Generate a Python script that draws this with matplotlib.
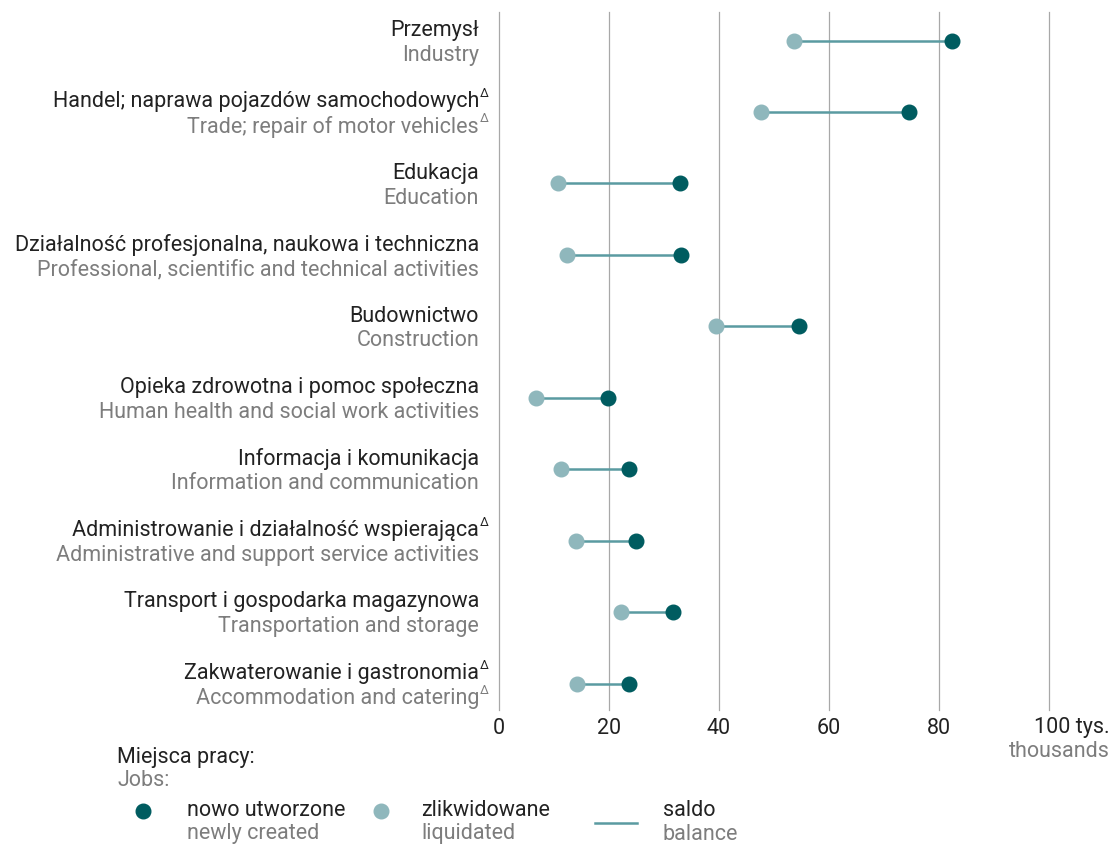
import numpy as np
import matplotlib.pyplot as plt
from matplotlib.lines import Line2D

# Dane (tys. miejsc pracy)
sekcje_pl = ["Przemysł", "Handel; naprawa pojazdów samochodowych", "Edukacja",
             "Działalność profesjonalna, naukowa i techniczna", "Budownictwo",
             "Opieka zdrowotna i pomoc społeczna", "Informacja i komunikacja",
             "Administrowanie i działalność wspierająca",
             "Transport i gospodarka magazynowa", "Zakwaterowanie i gastronomia"]
sekcje_en = ["Industry", "Trade; repair of motor vehicles", "Education",
             "Professional, scientific and technical activities", "Construction",
             "Human health and social work activities", "Information and communication",
             "Administrative and support service activities",
             "Transportation and storage", "Accommodation and catering"]
delta_pl = [False, True, False, False, False, False, False, True, False, True]
delta_en = [False, True, False, False, False, False, False, False, False, True]
nowe = [82.4, 74.5, 32.9, 33.1, 54.5, 19.8, 23.6, 24.9, 31.6, 23.6]
zlikwidowane = [53.6, 47.6, 10.7, 12.4, 39.5, 6.7, 11.3, 14.0, 22.2, 14.2]
ticks = [0, 20, 40, 60, 80]

dark = "#005c60"
light = "#8fb7bc"
linec = "#5a9ba1"
black = "#222222"
gray = "#7d7d7d"

plt.rcParams['font.family'] = ['Roboto', 'DejaVu Sans']
fs = 15.5

fig = plt.figure(figsize=(11.12, 8.44), dpi=100)
ax = fig.add_axes([499/1112, 134/844, 550/1112, 698/844])

y = np.arange(len(nowe))
ax.hlines(y, zlikwidowane, nowe, color=linec, lw=1.8, zorder=2)
ax.plot(zlikwidowane, y, 'o', color=light, ms=10.5, zorder=3)
ax.plot(nowe, y, 'o', color=dark, ms=10.5, zorder=4)

ax.set_xlim(0, 100)
ax.set_ylim(9.37, -0.4)
for v in ticks + [100]:
    ax.axvline(v, color="#a8a8a8", lw=0.9, zorder=1, clip_on=False)
for s in ax.spines.values():
    s.set_visible(False)
ax.set_yticks([])
ax.set_xticks(ticks)
ax.set_xticklabels([str(t) for t in ticks], fontsize=fs, color=black)
ax.tick_params(axis='x', length=0, pad=6)
ax.annotate("100 tys.", (111, 9.37), xytext=(0, -5), textcoords='offset points',
            ha='right', va='top', fontsize=fs, color=black, annotation_clip=False)
ax.annotate("thousands", (111, 9.37), xytext=(0, -22), textcoords='offset points',
            ha='right', va='top', fontsize=fs, color=gray, annotation_clip=False)

for i in range(len(nowe)):
    ax.annotate(sekcje_pl[i], (0, i), xytext=(-14.4, 7.3), textcoords='offset points',
                ha='right', va='center', fontsize=fs, color=black, annotation_clip=False)
    ax.annotate(sekcje_en[i], (0, i), xytext=(-14.4, -10.5), textcoords='offset points',
                ha='right', va='center', fontsize=fs, color=gray, annotation_clip=False)
    if delta_pl[i]:
        ax.annotate("Δ", (0, i), xytext=(-14, 13), textcoords='offset points',
                    ha='left', va='center', fontsize=9, color=black, annotation_clip=False)
    if delta_en[i]:
        ax.annotate("Δ", (0, i), xytext=(-14, -5), textcoords='offset points',
                    ha='left', va='center', fontsize=9, color=gray, annotation_clip=False)

# Legenda
def fx(px):
    return px / 1112

def fy(py):
    return 1 - py / 844

fig.text(fx(117), fy(757), "Miejsca pracy:", ha='left', va='center', fontsize=fs, color=black)
fig.text(fx(117), fy(781), "Jobs:", ha='left', va='center', fontsize=fs, color=gray)
fig.add_artist(Line2D([fx(143)], [fy(811)], marker='o', color=dark, ms=10.5, transform=fig.transFigure))
fig.add_artist(Line2D([fx(381)], [fy(811)], marker='o', color=light, ms=10.5, transform=fig.transFigure))
fig.add_artist(Line2D([fx(595), fx(637)], [fy(823), fy(823)], color=linec, lw=1.8,
                      transform=fig.transFigure))
for x0, t1, t2 in [(187, "nowo utworzone", "newly created"),
                   (421, "zlikwidowane", "liquidated"),
                   (663, "saldo", "balance")]:
    fig.text(fx(x0), fy(811), t1, ha='left', va='center', fontsize=fs, color=black)
    fig.text(fx(x0), fy(834), t2, ha='left', va='center', fontsize=fs, color=gray)

plt.savefig("out.png", dpi=100)
